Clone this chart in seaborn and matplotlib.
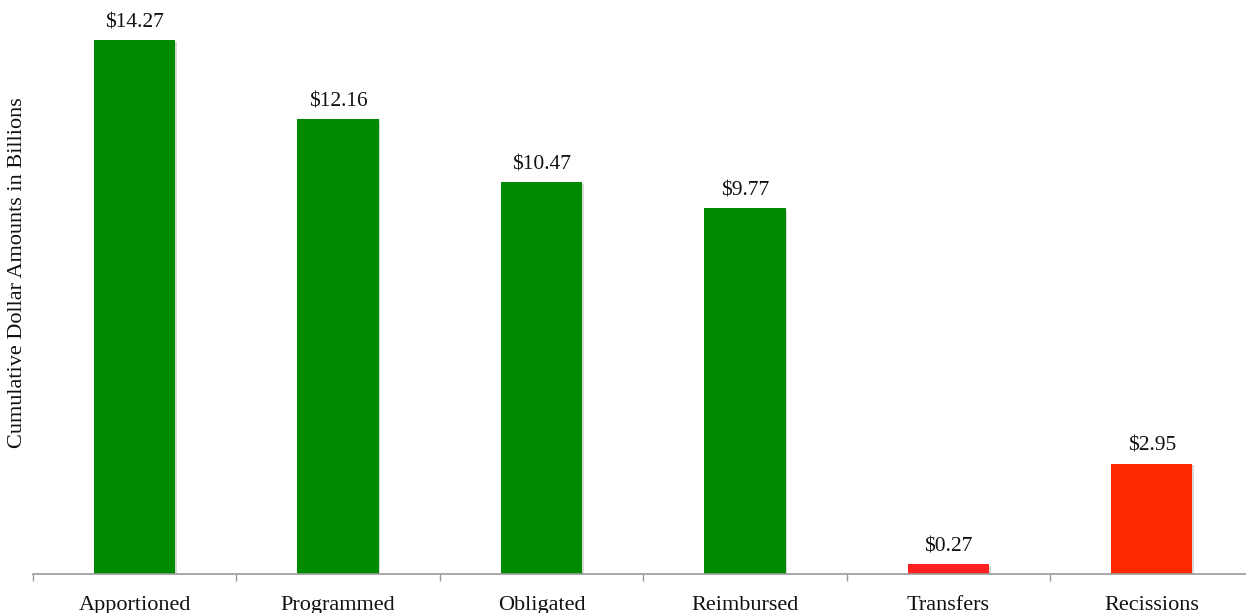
import matplotlib
matplotlib.use("Agg")
import matplotlib.pyplot as plt
import matplotlib.patheffects as pe
import seaborn as sns
import pandas as pd
import numpy as np

categories = ["Apportioned", "Programmed", "Obligated", "Reimbursed", "Transfers", "Recissions"]
amounts = [14.27, 12.16, 10.47, 9.77, 0.27, 2.95]
bar_colors = ["#008a00", "#008a00", "#008a00", "#008a00", "#ff2020", "#ff2800"]

sns.set_theme(style="white")
plt.rcParams["font.family"] = ["Liberation Serif", "DejaVu Serif"]

df = pd.DataFrame({"category": categories, "amount": amounts})

fig = plt.figure(figsize=(12.46, 6.13), dpi=100)
ax = fig.add_axes([33 / 1246, 39 / 613, 1220.5 / 1246, 574 / 613])

sns.barplot(data=df, x="category", y="amount", hue="category",
            palette=dict(zip(categories, bar_colors)), legend=False,
            width=0.4, saturation=1, linewidth=0, ax=ax)

for bar in ax.patches:
    bar.set_path_effects([pe.SimplePatchShadow(offset=(1.2, -1.2), shadow_rgbFace="black", alpha=0.15),
                          pe.Normal()])

for bar, val in zip(ax.patches, amounts):
    ax.annotate(f"${val:.2f}", (bar.get_x() + bar.get_width() / 2, bar.get_height()),
                xytext=(0, 5.5), textcoords="offset points", ha="center", va="bottom",
                fontsize=15.5, color="#111111")

ax.set_xlim(-0.5, 5.5)
ax.set_ylim(0, 574 / 37.42)
ax.set_yticks([])
ax.set_xlabel("")
ax.set_ylabel("")
fig.text(18 / 1246, (613 - 273) / 613, "Cumulative Dollar Amounts in Billions",
         rotation=90, ha="center", va="center", fontsize=16, color="#111111")

for side in ["top", "right", "left"]:
    ax.spines[side].set_visible(False)
ax.spines["bottom"].set_color("#9a9a9a")
ax.spines["bottom"].set_linewidth(1.2)

ax.set_xticks(range(len(categories)))
ax.set_xticklabels(categories, fontsize=16, color="#111111")
ax.tick_params(axis="x", which="major", length=0, pad=16)
ax.set_xticks(np.arange(-0.5, 5.6, 1.0), minor=True)
ax.tick_params(axis="x", which="minor", length=5, width=1, color="#9a9a9a", direction="out", bottom=True)

fig.savefig("out.png", dpi=100)
